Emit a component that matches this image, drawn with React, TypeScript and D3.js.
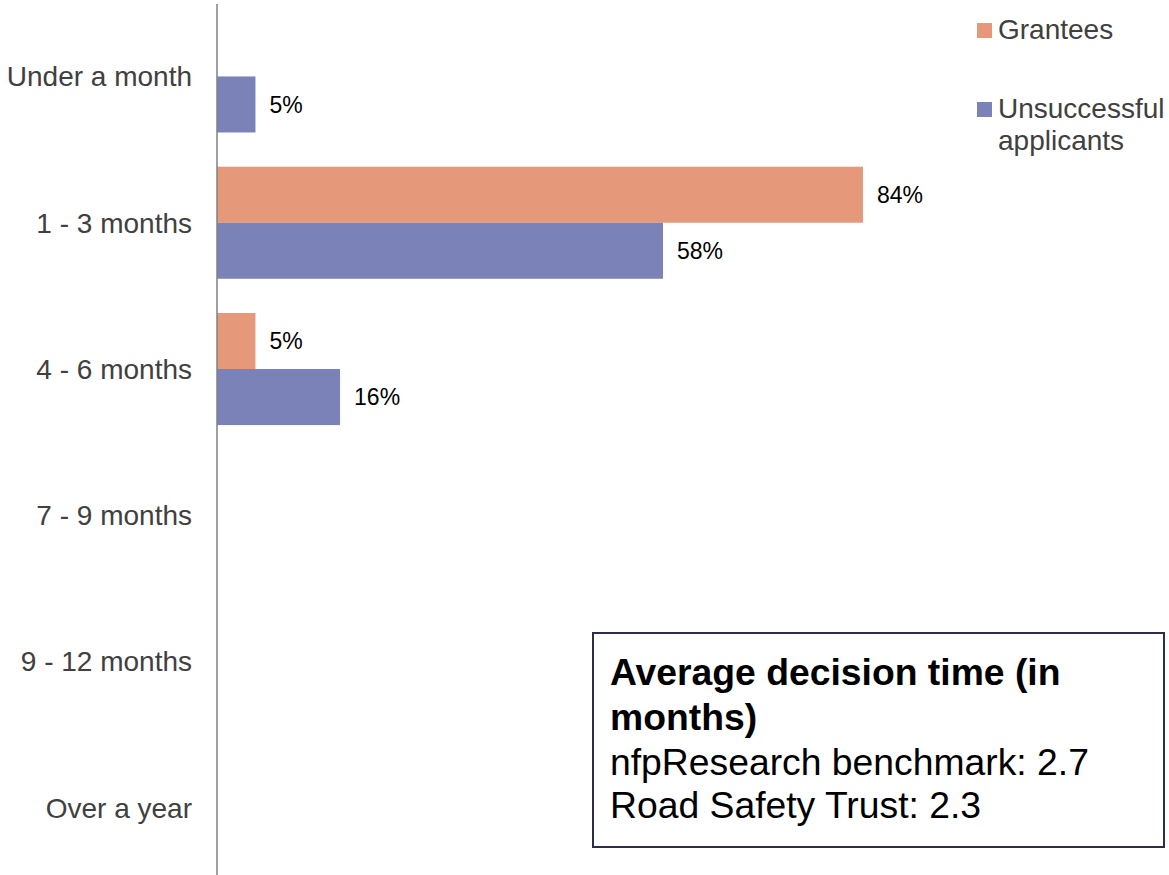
import React from "react";
import * as d3 from "d3";

const categories = ["Under a month", "1 - 3 months", "4 - 6 months", "7 - 9 months", "9 - 12 months", "Over a year"];
const seriesNames = ["Grantees", "Unsuccessful applicants"];
const grantees = [0, 84, 5, 0, 0, 0];
const unsuccessful = [5, 58, 16, 0, 0, 0];
const boxTitle = ["Average decision time (in", "months)"];
const boxLines = ["nfpResearch benchmark: 2.7", "Road Safety Trust: 2.3"];

const W = 1169;
const H = 875;
const colors = ["#E5997A", "#7A82B8"];
const FONT = "'Liberation Sans', Arial, Helvetica, sans-serif";

export default function App() {
  const x = d3.scaleLinear().domain([0, 100]).range([217, 986]);
  const y = d3
    .scaleBand<string>()
    .domain(categories)
    .range([3.3, 881])
    .paddingInner(0.234)
    .paddingOuter(0.117);
  const sub = d3.scaleBand<string>().domain(seriesNames).range([0, y.bandwidth()]);
  const series = [grantees, unsuccessful];

  return (
    <svg width={W} height={H} style={{ position: "absolute", left: 0, top: 0, background: "#fff" }} fontFamily={FONT}>
      {series.map((vals, si) =>
        vals.map((v, ci) => {
          if (!v) return null;
          const y0 = (y(categories[ci]) as number) + (sub(seriesNames[si]) as number);
          return (
            <g key={`${si}-${ci}`}>
              <rect x={x(0)} y={y0} width={x(v) - x(0)} height={sub.bandwidth()} fill={colors[si]} />
              <text x={x(v) + 14} y={y0 + sub.bandwidth() / 2} dy="0.35em" fontSize={23} fill="#000">
                {v}%
              </text>
            </g>
          );
        })
      )}
      <line x1={x(0)} x2={x(0)} y1={4} y2={H} stroke="#808080" strokeWidth={1.5} />
      {categories.map((c) => (
        <text key={c} x={192} y={(y(c) as number) + y.bandwidth() / 2} dy="0.35em" textAnchor="end" fontSize={28} fill="#404040">
          {c}
        </text>
      ))}
      <g>
        <rect x={977} y={23} width={15} height={15} fill={colors[0]} />
        <text x={998} y={39} fontSize={28} fill="#404040">{seriesNames[0]}</text>
        <rect x={977} y={102} width={15} height={15} fill={colors[1]} />
        <text x={998} y={118} fontSize={28} fill="#404040">
          <tspan x={998}>Unsuccessful</tspan>
          <tspan x={998} dy={32}>applicants</tspan>
        </text>
      </g>
      <g>
        <rect x={593} y={633} width={571} height={214} fill="#fff" stroke="#2B2E4A" strokeWidth={2} />
        {boxTitle.map((t, i) => (
          <text key={t} x={610} y={685 + i * 45} fontSize={37.3} fontWeight="bold" fill="#000">{t}</text>
        ))}
        {boxLines.map((t, i) => (
          <text key={t} x={610} y={775 + i * 43} fontSize={37.3} fill="#000">{t}</text>
        ))}
      </g>
    </svg>
  );
}
